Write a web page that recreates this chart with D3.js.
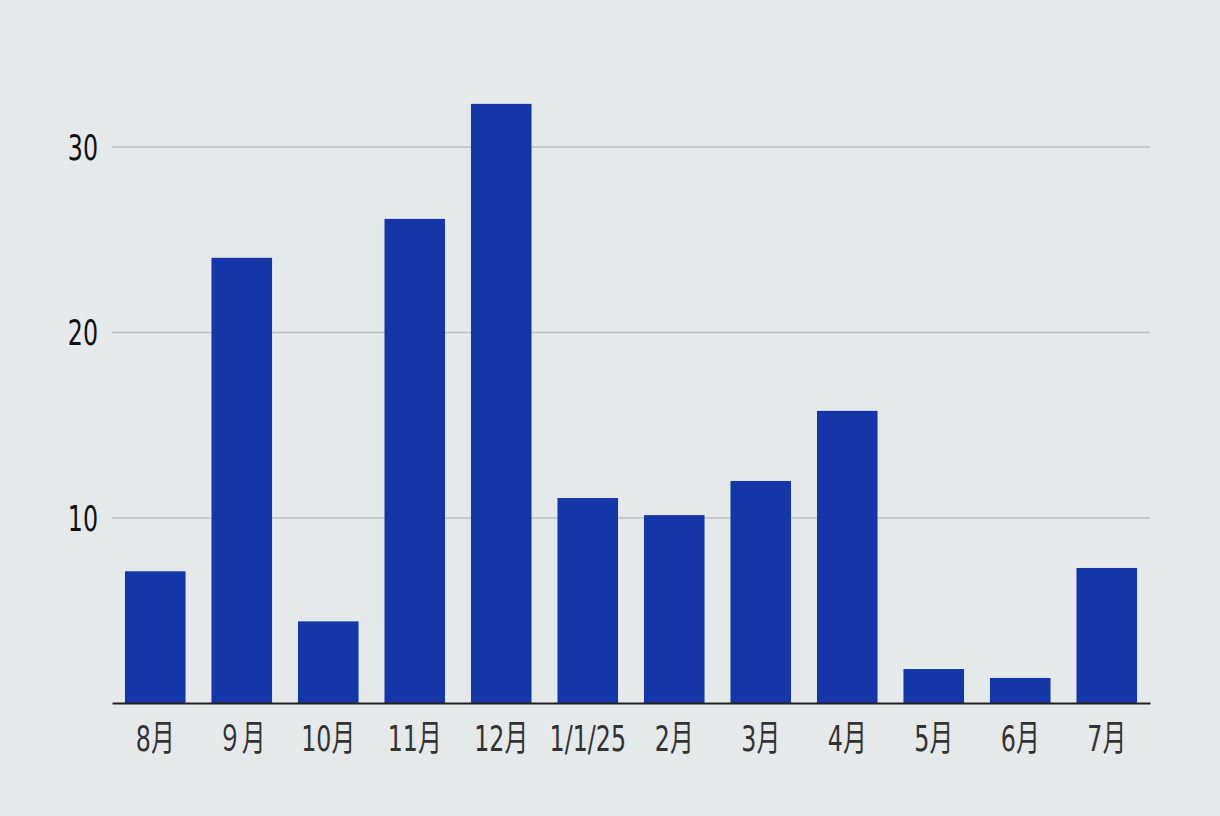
<!DOCTYPE html>
<html>
<head>
<meta charset="utf-8">
<script src="https://cdn.jsdelivr.net/npm/d3@7"></script>
<style>
  html, body { margin: 0; padding: 0; background: #e5e9ea; }
  svg text { font-family: "DejaVu Sans", "Noto Sans CJK JP", sans-serif; }
</style>
</head>
<body>
<div id="chart-container"></div>
<script>
// data
const categories = ["8月", "９月", "10月", "11月", "12月", "1/1/25", "2月", "3月", "4月", "5月", "6月", "7月"];
const values = [7.1, 24.0, 4.4, 26.1, 32.3, 11.05, 10.13, 11.97, 15.75, 1.83, 1.35, 7.28];
const yTicks = [10, 20, 30];

let width = 1220, height = 816,
    margin = { top: 0, right: 70, bottom: 113, left: 112 },
    innerW = width - margin.left - margin.right,
    innerH = height - margin.top - margin.bottom,
    squeeze = 0.66;

let svg = d3.select("#chart-container").append("svg")
    .attr("width", width).attr("height", height);

svg.append("rect").attr("width", width).attr("height", height).attr("fill", "#e5e9ea");

let g = svg.append("g").attr("transform", `translate(${margin.left},${margin.top})`);

let x = d3.scaleBand().domain(categories).range([0, innerW]).paddingInner(0.3).paddingOuter(0.15),
    y = d3.scaleLinear().domain([0, 37.9]).range([innerH, 0]);

// gridlines + y labels
let yAxis = g.append("g")
    .call(d3.axisLeft(y).tickValues(yTicks).tickSize(-innerW).tickFormat(d3.format("d")));
yAxis.select(".domain").remove();
yAxis.selectAll(".tick line").attr("stroke", "#bcc0c2").attr("stroke-width", 1.5);
yAxis.selectAll(".tick text")
    .attr("fill", "#111").attr("font-size", 36)
    .attr("x", -14 / squeeze).attr("dy", "0.36em")
    .attr("transform", `scale(${squeeze},1)`);

g.selectAll("rect.bar")
    .data(values)
    .join("rect")
    .attr("class", "bar")
    .attr("x", (d, i) => x(categories[i]))
    .attr("y", d => y(d))
    .attr("width", x.bandwidth())
    .attr("height", d => innerH - y(d))
    .attr("fill", "#1436a8");

// x axis
let xAxis = g.append("g")
    .attr("transform", `translate(0,${innerH})`)
    .call(d3.axisBottom(x).tickSize(0).tickPadding(22));
xAxis.select(".domain").attr("stroke", "#222").attr("stroke-width", 2);
xAxis.selectAll(".tick text")
    .attr("fill", "#333").attr("font-size", 36)
    .attr("transform", `scale(${squeeze},1)`);
</script>
</body>
</html>
